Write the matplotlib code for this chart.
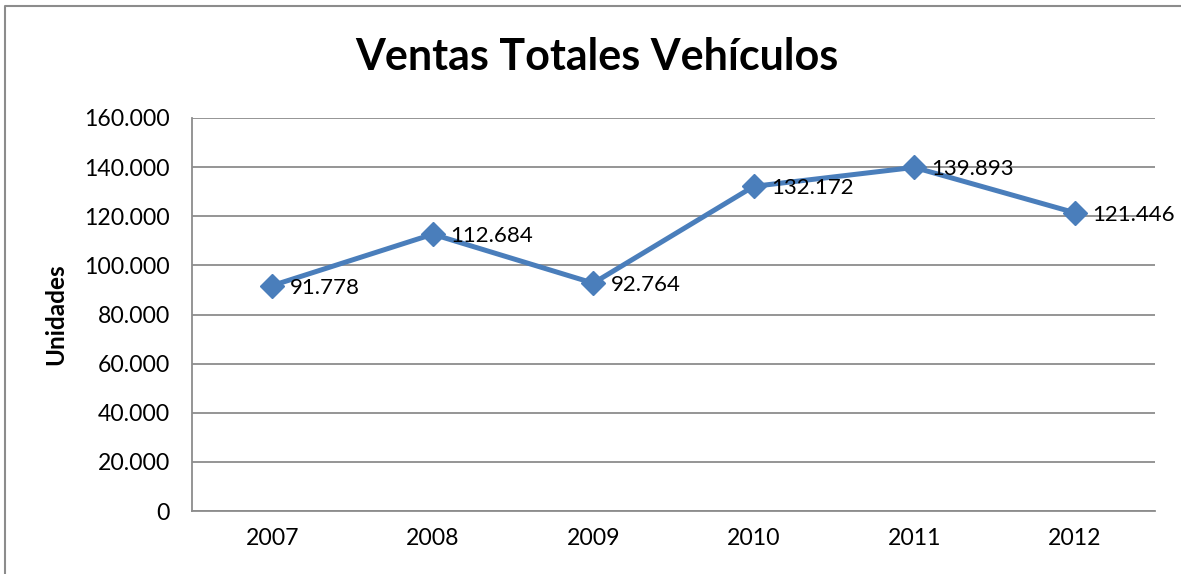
import matplotlib.pyplot as plt
from matplotlib.lines import Line2D
from matplotlib.ticker import FuncFormatter

years = ['2007', '2008', '2009', '2010', '2011', '2012']
ventas = [91778, 112684, 92764, 132172, 139893, 121446]
etiquetas = ['91.778', '112.684', '92.764', '132.172', '139.893', '121.446']

plt.rcParams['font.family'] = ['Lato', 'DejaVu Sans']

fig = plt.figure(figsize=(11.81, 5.74), dpi=100)
ax = fig.add_axes([192 / 1181, 63 / 574, 963 / 1181, 393 / 574])

x = range(len(years))
ax.plot(x, ventas, color='#4a7ebb', lw=3.6, marker='D', markersize=12.5,
        markeredgecolor='#4a7ebb', zorder=3)
for xi, v, lab in zip(x, ventas, etiquetas):
    ax.annotate(lab, (xi, v), xytext=(12.5, -1.5), textcoords='offset points',
                va='center', ha='left', fontsize=16, zorder=4)

ax.set_xlim(-0.5, 5.5)
ax.set_ylim(0, 160000)
ax.set_yticks(range(0, 160001, 20000))
ax.yaxis.set_major_formatter(FuncFormatter(lambda v, p: f'{int(v):,}'.replace(',', '.')))
ax.set_xticks(list(x))
ax.set_xticklabels(years)
ax.tick_params(length=0, labelsize=16.6, pad=12)
ax.tick_params(axis='y', pad=16)
ax.grid(axis='y', color='#8c8c8c', lw=1.3)
ax.set_axisbelow(True)
for s in ['top', 'right']:
    ax.spines[s].set_visible(False)
for s in ['left', 'bottom']:
    ax.spines[s].set_color('#8c8c8c')
    ax.spines[s].set_linewidth(1.3)

ax.set_ylabel('Unidades', fontsize=17.5, fontweight='bold', labelpad=12)
fig.text(597 / 1181, 1 - 57 / 574, 'Ventas Totales Vehículos', ha='center', va='center',
         fontsize=31, fontweight='bold')

# outer chart frame
fig.add_artist(Line2D([5 / 1181, 5 / 1181, 1.0], [0, 1 - 6 / 574, 1 - 6 / 574],
                      transform=fig.transFigure, color='#8c8c8c', lw=1.5))

fig.savefig('out.png', dpi=100, facecolor='white')
